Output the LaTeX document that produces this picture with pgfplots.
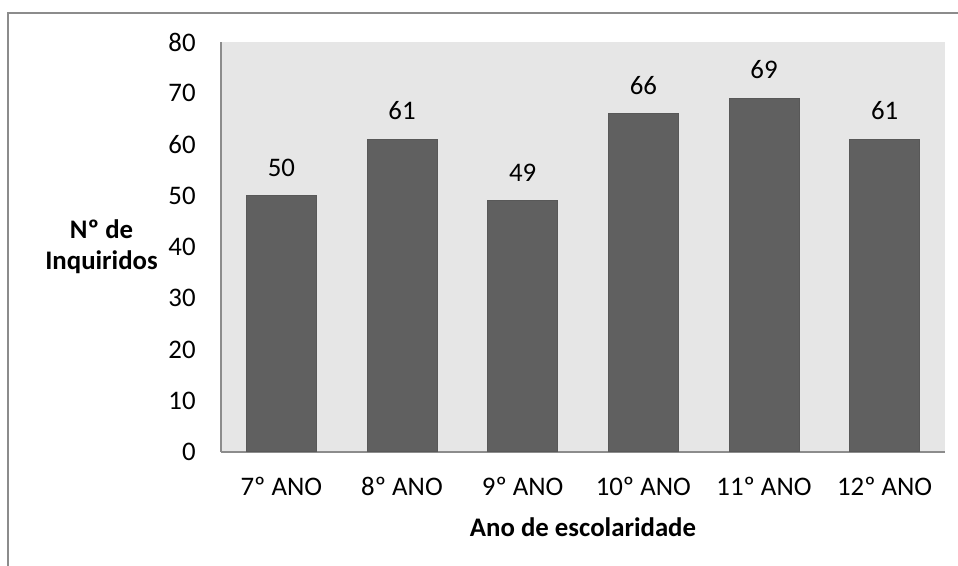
\documentclass[border=0pt]{standalone}
\usepackage{fontspec}
\setmainfont{Carlito}
\usepackage{pgfplots}
\pgfplotsset{compat=1.18}

\definecolor{barfill}{HTML}{606060}
\definecolor{baredge}{HTML}{585858}
\definecolor{plotbg}{HTML}{E6E6E6}
\definecolor{axisgray}{HTML}{8C8C8C}

\begin{document}
\begin{tikzpicture}
    \useasboundingbox (0,0) rectangle (479pt,283pt);
    % chart frame (left and top edges visible)
    \draw[axisgray, line width=0.8pt] (4pt,0) -- (4pt,276.5pt) -- (479pt,276.5pt);

    \begin{axis}[
        at={(110.5pt,57pt)}, anchor=south west,
        scale only axis,
        width=362pt, height=205pt,
        font=\fontsize{13.4}{15.6}\selectfont,
        /pgf/number format/assume math mode=true,
        ybar, bar width=35pt,
        xmin=-0.5, xmax=5.5,
        ymin=0, ymax=80,
        ytick={0,10,...,80},
        xtick=data,
        xticklabels={7º ANO, 8º ANO, 9º ANO, 10º ANO, 11º ANO, 12º ANO},
        major tick length=0pt,
        axis x line*=bottom, axis y line*=left,
        axis line style={axisgray, line width=0.7pt, -},
        axis background/.style={fill=plotbg},
        yticklabel style={anchor=east, inner sep=0pt, xshift=-12.5pt},
        xticklabel style={anchor=base, inner sep=0pt, yshift=-21.75pt},
        xlabel={\bfseries Ano de escolaridade},
        xlabel style={at={(axis description cs:0.5,0)}, anchor=center, yshift=-37.5pt},
        ylabel={\bfseries Nº de\\ \bfseries Inquiridos},
        ylabel style={rotate=-90, align=center, at={(axis description cs:-0.165,0.5)}, anchor=center},
        nodes near coords,
        every node near coord/.append style={anchor=south, inner sep=0pt, yshift=9.5pt, font=\fontsize{13.4}{15.6}\selectfont},
    ]
        \addplot[fill=barfill, draw=baredge, line width=0.5pt] coordinates {
            (0,50) (1,61) (2,49) (3,66) (4,69) (5,61)
        };
    \end{axis}
\end{tikzpicture}
\end{document}
